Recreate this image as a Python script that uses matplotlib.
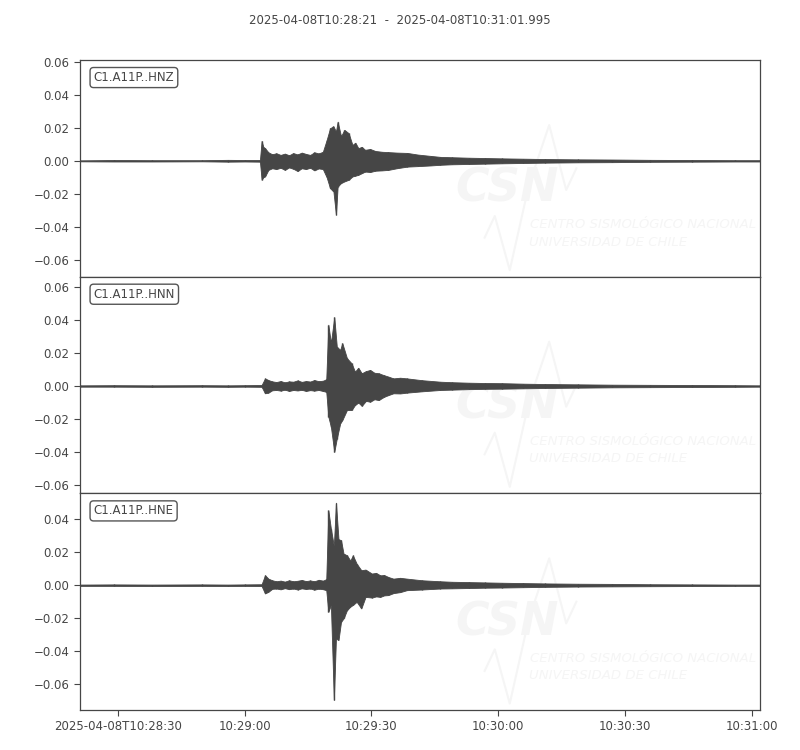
import numpy as np
import matplotlib
matplotlib.use('Agg')
import matplotlib.pyplot as plt

# Cor padrão do traço e dos textos
COR = '#464646'

titulo = '2025-04-08T10:28:21  -  2025-04-08T10:31:01.995'
canais = ['C1.A11P..HNZ', 'C1.A11P..HNN', 'C1.A11P..HNE']

# Eixo x em segundos desde 10:28:21
duracao = 160.995
pos_ticks = [9, 39, 69, 99, 129, 159]
rot_ticks = ['2025-04-08T10:28:30', '10:29:00', '10:29:30', '10:30:00', '10:30:30', '10:31:00']

# Envoltória (máximo / mínimo), canal HNZ
t_z = [0, 8, 17, 29, 35, 39, 42.6, 43.0, 43.4, 43.8, 44.6, 45.5, 46.5, 47.5, 48.5, 49.5,
       50.5, 51.5, 52.5, 53.5, 54.5, 55.5, 56.5, 57.5, 58.4, 59.2, 60.0, 60.6, 61.0, 61.8,
       62.6, 63.6, 64.5, 65.2, 65.9, 66.7, 67.5, 68.7, 69.9, 71.5, 73.0, 75.0, 77.5, 80,
       83, 85.3, 88, 92, 96, 100, 105, 110, 118, 126, 135, 145, 155, 160.9]
max_z = [0.0003, 0.0005, 0.0004, 0.0004, 0.0006, 0.0005, 0.0005, 0.0121, 0.0085, 0.0077,
         0.0052, 0.0040, 0.0046, 0.0036, 0.0044, 0.0034, 0.0047, 0.0039, 0.0050, 0.0042,
         0.0036, 0.0052, 0.0045, 0.0055, 0.0127, 0.0198, 0.0210, 0.0178, 0.0238, 0.0150,
         0.0188, 0.0168, 0.0097, 0.0110, 0.0077, 0.0085, 0.0067, 0.0072, 0.0060, 0.0055,
         0.0053, 0.0050, 0.0048, 0.0038, 0.0030, 0.0024, 0.0022, 0.0019, 0.0017, 0.0015,
         0.0013, 0.0011, 0.0009, 0.0008, 0.0006, 0.0005, 0.0004, 0.0004]
min_z = [-0.0003, -0.0004, -0.0004, -0.0003, -0.0005, -0.0004, -0.0005, -0.0115, -0.0100,
         -0.0095, -0.0055, -0.0045, -0.0050, -0.0042, -0.0055, -0.0040, -0.0048, -0.0062,
         -0.0045, -0.0050, -0.0042, -0.0058, -0.0046, -0.0050, -0.0100, -0.0166, -0.0186,
         -0.0327, -0.0156, -0.0135, -0.0125, -0.0115, -0.0095, -0.0090, -0.0085, -0.0075,
         -0.0065, -0.0068, -0.0060, -0.0058, -0.0055, -0.0045, -0.0035, -0.0032, -0.0028,
         -0.0024, -0.0021, -0.0019, -0.0017, -0.0015, -0.0013, -0.0011, -0.0009, -0.0008,
         -0.0006, -0.0005, -0.0004, -0.0004]

# Canal HNN
t_n = [0, 8, 17, 29, 35, 39, 43.0, 43.8, 44.6, 45.5, 46.5, 47.5, 48.5, 49.5, 50.5, 51.5,
       52.5, 53.5, 54.5, 55.5, 56.5, 57.5, 58.3, 58.8, 59.4, 60.2, 60.8, 61.6, 62.1, 63.2,
       64.3, 65.1, 65.9, 66.7, 67.7, 68.7, 69.7, 70.7, 72.0, 73.0, 74.2, 75.8, 77.4, 81,
       85.3, 88, 92, 96, 100, 105, 110, 118, 126, 135, 145, 155, 160.9]
max_n = [0.0004, 0.0005, 0.0004, 0.0005, 0.0004, 0.0005, 0.0006, 0.0046, 0.0036, 0.0028,
         0.0024, 0.0030, 0.0022, 0.0028, 0.0026, 0.0034, 0.0025, 0.0030, 0.0027, 0.0036,
         0.0029, 0.0032, 0.0040, 0.0370, 0.0260, 0.0416, 0.0238, 0.0218, 0.0259, 0.0168,
         0.0137, 0.0087, 0.0110, 0.0077, 0.0090, 0.0097, 0.0080, 0.0077, 0.0065, 0.0057,
         0.0046, 0.0050, 0.0046, 0.0035, 0.0026, 0.0023, 0.0020, 0.0018, 0.0017, 0.0014,
         0.0012, 0.0010, 0.0008, 0.0007, 0.0006, 0.0005, 0.0004]
min_n = [-0.0004, -0.0004, -0.0005, -0.0004, -0.0005, -0.0004, -0.0005, -0.0044, -0.0040,
         -0.0026, -0.0024, -0.0028, -0.0022, -0.0030, -0.0024, -0.0027, -0.0023, -0.0030,
         -0.0025, -0.0028, -0.0024, -0.0030, -0.0035, -0.0186, -0.0246, -0.0398, -0.0317,
         -0.0226, -0.0206, -0.0145, -0.0145, -0.0115, -0.0100, -0.0120, -0.0090, -0.0095,
         -0.0080, -0.0085, -0.0065, -0.0055, -0.0044, -0.0045, -0.0040, -0.0032, -0.0024,
         -0.0022, -0.0019, -0.0017, -0.0016, -0.0014, -0.0012, -0.0010, -0.0008, -0.0007,
         -0.0006, -0.0005, -0.0004]

# Canal HNE
t_e = [0, 8, 17, 29, 35, 39, 43.0, 43.8, 44.6, 45.5, 46.5, 47.5, 48.5, 49.5, 50.5, 51.5,
       52.5, 53.5, 54.5, 55.5, 56.5, 57.5, 58.3, 58.8, 59.4, 60.1, 60.6, 61.2, 61.8, 62.4,
       63.2, 64.0, 64.6, 65.5, 66.6, 67.6, 69.1, 70.1, 71.1, 72.0, 73.0, 74.2, 75.8, 77.4,
       81, 85.3, 88, 92, 96, 100, 105, 110, 118, 126, 135, 145, 155, 160.9]
max_e = [0.0004, 0.0005, 0.0004, 0.0005, 0.0004, 0.0005, 0.0006, 0.0061, 0.0040, 0.0030,
         0.0024, 0.0028, 0.0022, 0.0030, 0.0024, 0.0027, 0.0032, 0.0025, 0.0029, 0.0024,
         0.0033, 0.0028, 0.0036, 0.0455, 0.0343, 0.0240, 0.0501, 0.0280, 0.0273, 0.0192,
         0.0182, 0.0150, 0.0182, 0.0131, 0.0091, 0.0095, 0.0071, 0.0075, 0.0060, 0.0062,
         0.0050, 0.0040, 0.0045, 0.0040, 0.0030, 0.0024, 0.0021, 0.0019, 0.0017, 0.0015,
         0.0013, 0.0011, 0.0009, 0.0008, 0.0006, 0.0005, 0.0004, 0.0004]
min_e = [-0.0004, -0.0004, -0.0005, -0.0004, -0.0005, -0.0004, -0.0005, -0.0050, -0.0040,
         -0.0022, -0.0020, -0.0025, -0.0018, -0.0024, -0.0020, -0.0026, -0.0019, -0.0023,
         -0.0020, -0.0027, -0.0021, -0.0024, -0.0030, -0.0162, -0.0120, -0.0697, -0.0323,
         -0.0333, -0.0222, -0.0202, -0.0152, -0.0130, -0.0120, -0.0101, -0.0141, -0.0071,
         -0.0075, -0.0068, -0.0071, -0.0062, -0.0060, -0.0048, -0.0042, -0.0030, -0.0026,
         -0.0020, -0.0019, -0.0017, -0.0015, -0.0014, -0.0012, -0.0010, -0.0008, -0.0007,
         -0.0006, -0.0005, -0.0004, -0.0004]

limites_y = [(-0.0703, 0.0612), (-0.0648, 0.0660), (-0.0758, 0.0558)]

tracos = [(t_z, max_z, min_z), (t_n, max_n, min_n), (t_e, max_e, min_e)]


# Desenha a marca d'água do CSN dentro de um eixo
def marca_dagua(ax):
    cor = '#f5f5f5'
    ax.text(0.552, 0.30, 'CSN', transform=ax.transAxes, fontsize=33, fontweight='bold',
            style='italic', color=cor, ha='left', va='bottom', zorder=0, clip_on=True)
    ax.plot([0.595, 0.61, 0.632, 0.66, 0.69, 0.715, 0.73],
            [0.18, 0.28, 0.03, 0.42, 0.70, 0.40, 0.50],
            transform=ax.transAxes, color=cor, lw=1.5, zorder=0)
    ax.text(0.662, 0.24, 'CENTRO SISMOLÓGICO NACIONAL', transform=ax.transAxes,
            fontsize=9.5, style='italic', color=cor,
            ha='left', va='center', zorder=0, clip_on=True)
    ax.text(0.660, 0.16, 'UNIVERSIDAD DE CHILE', transform=ax.transAxes,
            fontsize=9.5, style='italic', color=cor,
            ha='left', va='center', zorder=0, clip_on=True)


fig, eixos = plt.subplots(3, 1, sharex=True, figsize=(8, 7.5), dpi=100)
fig.subplots_adjust(left=0.1, right=0.95, top=0.92, bottom=0.0533, hspace=0)

for ax, (t, alto, baixo), nome, lim in zip(eixos, tracos, canais, limites_y):
    marca_dagua(ax)
    ax.fill_between(t, baixo, alto, color=COR, lw=0.6, zorder=2)
    ax.vlines(t, baixo, alto, color=COR, lw=1.0, zorder=2)
    ax.set_xlim(0, duracao)
    ax.set_ylim(*lim)
    ax.text(0.02, 0.919, nome, transform=ax.transAxes, fontsize=8.5, color=COR,
            ha='left', va='center', zorder=5,
            bbox=dict(boxstyle='round,pad=0.3', fc='white', ec='#555555', lw=1.0))
    ax.tick_params(axis='both', labelsize=8.5, colors=COR, direction='out', length=4)
    for s in ax.spines.values():
        s.set_color(COR)
        s.set_linewidth(0.9)

eixos[-1].set_xticks(pos_ticks)
eixos[-1].set_xticklabels(rot_ticks)

fig.text(0.5, 0.973, titulo, ha='center', va='center', fontsize=8.5, color=COR)

fig.savefig('out.png', dpi=100)
